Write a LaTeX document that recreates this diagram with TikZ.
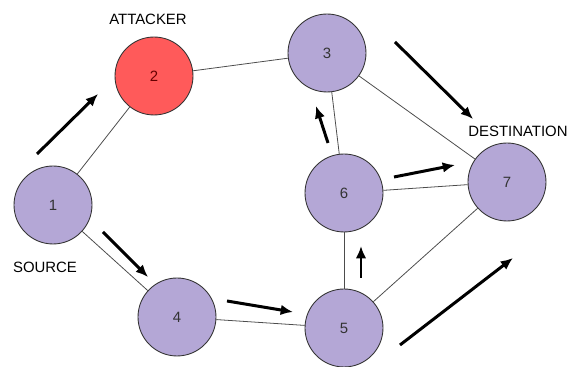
\documentclass[tikz,border=0pt]{standalone}
\usepackage{fontspec}
\setmainfont{Liberation Sans}
\usepackage{xcolor}
\usepackage{tikz}
\usetikzlibrary{arrows.meta}
\definecolor{nodepurple}{RGB}{180,167,214}
\definecolor{attackred}{RGB}{255,90,90}

\begin{document}
\begin{tikzpicture}[x=0.02cm ,y=-0.02cm ,font=\fontsize{8.5}{10}\selectfont ,router/.style ={ circle ,fill=nodepurple ,draw=black!80 ,line width=0.5pt ,text=black!80 ,inner sep=0pt ,minimum size=1.56cm} ,link/.style ={ draw=black!70 ,line width=0.45pt} ,flow/.style ={ -{Latex[length=7pt,width=6pt]} ,line width=1.7pt ,black}]
\useasboundingbox (0,0) rectangle (583,367);
\node[router] (n1) at (53,205) {1};
\node[router ,fill=attackred ,text=black!60!red] (n2) at (154,76) {2};
\node[router] (n3) at (327,53) {3};
\node[router] (n4) at (177,317) {4};
\node[router] (n5) at (344,328) {5};
\node[router] (n6) at (344,193) {6};
\node[router] (n7) at (507,182) {7};
\node (attacker) at (148,19) {ATTACKER};
\node (destination) at (518,131) {DESTINATION};
\node (source) at (45,267) {SOURCE};
% links
\path (n1) edge [link] (n2);
\path (n2) edge [link] (n3);
\path (n3) edge [link] (n7);
\path (n3) edge [link] (n6);
\path (n6) edge [link] (n7);
\path (n1) edge [link] (n4);
\path (n4) edge [link] (n5);
\path (n5) edge [link] (n6);
\path (n5) edge [link] (n7);
% traffic arrows
\coordinate (a1) at (37,154); \coordinate (b1) at (98,94);
\coordinate (a2) at (395,42); \coordinate (b2) at (473,119);
\coordinate (a3) at (328,143); \coordinate (b3) at (316,106);
\coordinate (a4) at (394,177); \coordinate (b4) at (455,165);
\coordinate (a5) at (361,278); \coordinate (b5) at (361,246);
\coordinate (a6) at (400,345); \coordinate (b6) at (513,258);
\coordinate (a7) at (103,232); \coordinate (b7) at (148,277);
\coordinate (a8) at (227,301); \coordinate (b8) at (293,312);
\draw[flow] (a1) -- (b1);
\draw[flow] (a2) -- (b2);
\draw[flow] (a3) -- (b3);
\draw[flow] (a4) -- (b4);
\draw[flow] (a5) -- (b5);
\draw[flow] (a6) -- (b6);
\draw[flow] (a7) -- (b7);
\draw[flow] (a8) -- (b8);
\end{tikzpicture}
\end{document}
